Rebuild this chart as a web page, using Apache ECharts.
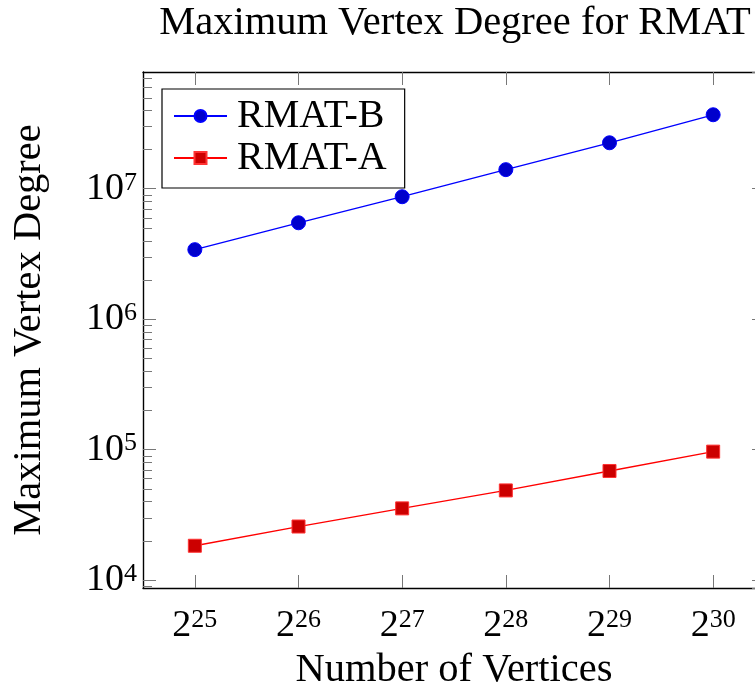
<!DOCTYPE html>
<html>
<head>
<meta charset="utf-8">
<script src="https://cdn.jsdelivr.net/npm/echarts@6/dist/echarts.min.js"></script>
<style>
  html, body { margin: 0; padding: 0; background: #fff; overflow: hidden; }
  /* the plot frame runs a little past the right edge of the window */
  #chart { width: 780px; height: 684px; }
</style>
</head>
<body>
<div id="chart"></div>
<script>
// Number of vertices: powers of two (exponents shown as superscripts)
const vertexExponents = [25, 26, 27, 28, 29, 30];

// Maximum vertex degree per graph size
const rmatB = [3.41e6, 5.48e6, 8.68e6, 1.40e7, 2.25e7, 3.69e7];
const rmatA = [1.83e4, 2.57e4, 3.54e4, 4.86e4, 6.85e4, 9.64e4];

// Log-scale y range and decades carrying labels
const yMin = 8680;
const yMax = 7.85e7;
const decadeExponents = [4, 5, 6, 7];

// Minor ticks at 2..9 x 10^k inside the y range
const minorTickValues = [];
for (let k = 3; k <= 7; k++) {
  for (let m = 2; m <= 9; m++) {
    const v = m * Math.pow(10, k);
    if (v > yMin && v < yMax) minorTickValues.push([0, v]);
  }
}

const FONT = '"Liberation Serif", "DejaVu Serif", serif';
const categories = vertexExponents.map(e => String(e));

const chart = echarts.init(document.getElementById('chart'), null, { renderer: 'canvas' });

const frameLine = { show: true, lineStyle: { color: '#000', width: 1.4 } };
const majorTick = { show: true, inside: true, length: 13, lineStyle: { color: '#777', width: 1 } };

chart.setOption({
  animation: false,
  backgroundColor: '#fff',
  title: {
    text: 'Maximum Vertex Degree for RMAT',
    left: 450,
    top: -2,
    textAlign: 'center',
    textStyle: { fontFamily: FONT, fontSize: 40.5, fontWeight: 'normal', color: '#000' }
  },
  legend: {
    data: ['RMAT-B', 'RMAT-A'],
    orient: 'vertical',
    left: 162,
    top: 89,
    padding: [6, 18, 9, 11],
    itemGap: 0,
    itemWidth: 53,
    itemHeight: 15,
    backgroundColor: '#fff',
    borderColor: '#000',
    borderWidth: 1.2,
    textStyle: { fontFamily: FONT, fontSize: 40, color: '#000', lineHeight: 42, padding: [0, 0, 0, 5] }
  },
  grid: { left: 143, top: 72, width: 622, height: 516, containLabel: false, outerBoundsMode: 'none' },
  xAxis: [
    {
      type: 'category',
      position: 'bottom',
      data: categories,
      boundaryGap: true,
      axisLine: frameLine,
      axisTick: Object.assign({ alignWithLabel: true }, majorTick),
      splitLine: { show: false },
      axisLabel: {
        margin: 19,
        formatter: v => '{b|2}{s|' + v + '}',
        rich: {
          b: { fontFamily: FONT, fontSize: 38, color: '#000', verticalAlign: 'bottom' },
          s: { fontFamily: FONT, fontSize: 26, color: '#000', verticalAlign: 'top' }
        }
      },
      name: 'Number of Vertices',
      nameLocation: 'middle',
      nameGap: 55,
      nameTextStyle: { fontFamily: FONT, fontSize: 40.5, color: '#000' }
    },
    {
      type: 'category',
      position: 'top',
      data: categories,
      boundaryGap: true,
      axisLine: frameLine,
      axisTick: Object.assign({ alignWithLabel: true }, majorTick),
      axisLabel: { show: false },
      splitLine: { show: false }
    }
  ],
  yAxis: [
    {
      type: 'log',
      logBase: 10,
      position: 'left',
      min: yMin,
      max: yMax,
      axisLine: frameLine,
      axisTick: majorTick,
      splitLine: { show: false },
      axisLabel: {
        margin: 6,
        showMinLabel: false,
        showMaxLabel: false,
        formatter: v => {
          const e = Math.round(Math.log10(v));
          if (Math.abs(Math.log10(v) - e) > 1e-6 || decadeExponents.indexOf(e) < 0) return '';
          return '{b|10}{s|' + e + '}';
        },
        rich: {
          b: { fontFamily: FONT, fontSize: 38, color: '#000', verticalAlign: 'bottom' },
          s: { fontFamily: FONT, fontSize: 26, color: '#000', verticalAlign: 'top' }
        }
      },
      name: 'Maximum Vertex Degree',
      nameLocation: 'middle',
      nameRotate: 90,
      nameGap: 93,
      nameTextStyle: { fontFamily: FONT, fontSize: 40.5, color: '#000' }
    },
    {
      type: 'log',
      logBase: 10,
      position: 'right',
      min: yMin,
      max: yMax,
      axisLine: frameLine,
      axisTick: majorTick,
      axisLabel: { show: false },
      splitLine: { show: false }
    }
  ],
  series: [
    {
      name: 'RMAT-B',
      type: 'line',
      xAxisIndex: 0,
      yAxisIndex: 0,
      data: rmatB,
      symbol: 'circle',
      symbolSize: 14,
      lineStyle: { color: '#0000ff', width: 1.3 },
      itemStyle: { color: '#0000cc', borderColor: '#0000ff', borderWidth: 1 },
      z: 3
    },
    {
      name: 'RMAT-A',
      type: 'line',
      xAxisIndex: 0,
      yAxisIndex: 0,
      data: rmatA,
      symbol: 'rect',
      symbolSize: 13,
      lineStyle: { color: '#ff0000', width: 1.3 },
      itemStyle: { color: '#cc0000', borderColor: '#ff3333', borderWidth: 1 },
      z: 3
    },
    {
      // minor log ticks on both vertical frame edges
      type: 'custom',
      xAxisIndex: 0,
      yAxisIndex: 0,
      silent: true,
      clip: false,
      z: 1,
      data: minorTickValues,
      renderItem: (params, api) => {
        const y = Math.round(api.coord([0, api.value(1)])[1]) + 0.5;
        const cs = params.coordSys;
        const style = { stroke: '#777', lineWidth: 1 };
        return {
          type: 'group',
          children: [
            { type: 'line', shape: { x1: cs.x, y1: y, x2: cs.x + 9, y2: y }, style },
            { type: 'line', shape: { x1: cs.x + cs.width - 9, y1: y, x2: cs.x + cs.width, y2: y }, style }
          ]
        };
      }
    }
  ]
});
</script>
</body>
</html>
